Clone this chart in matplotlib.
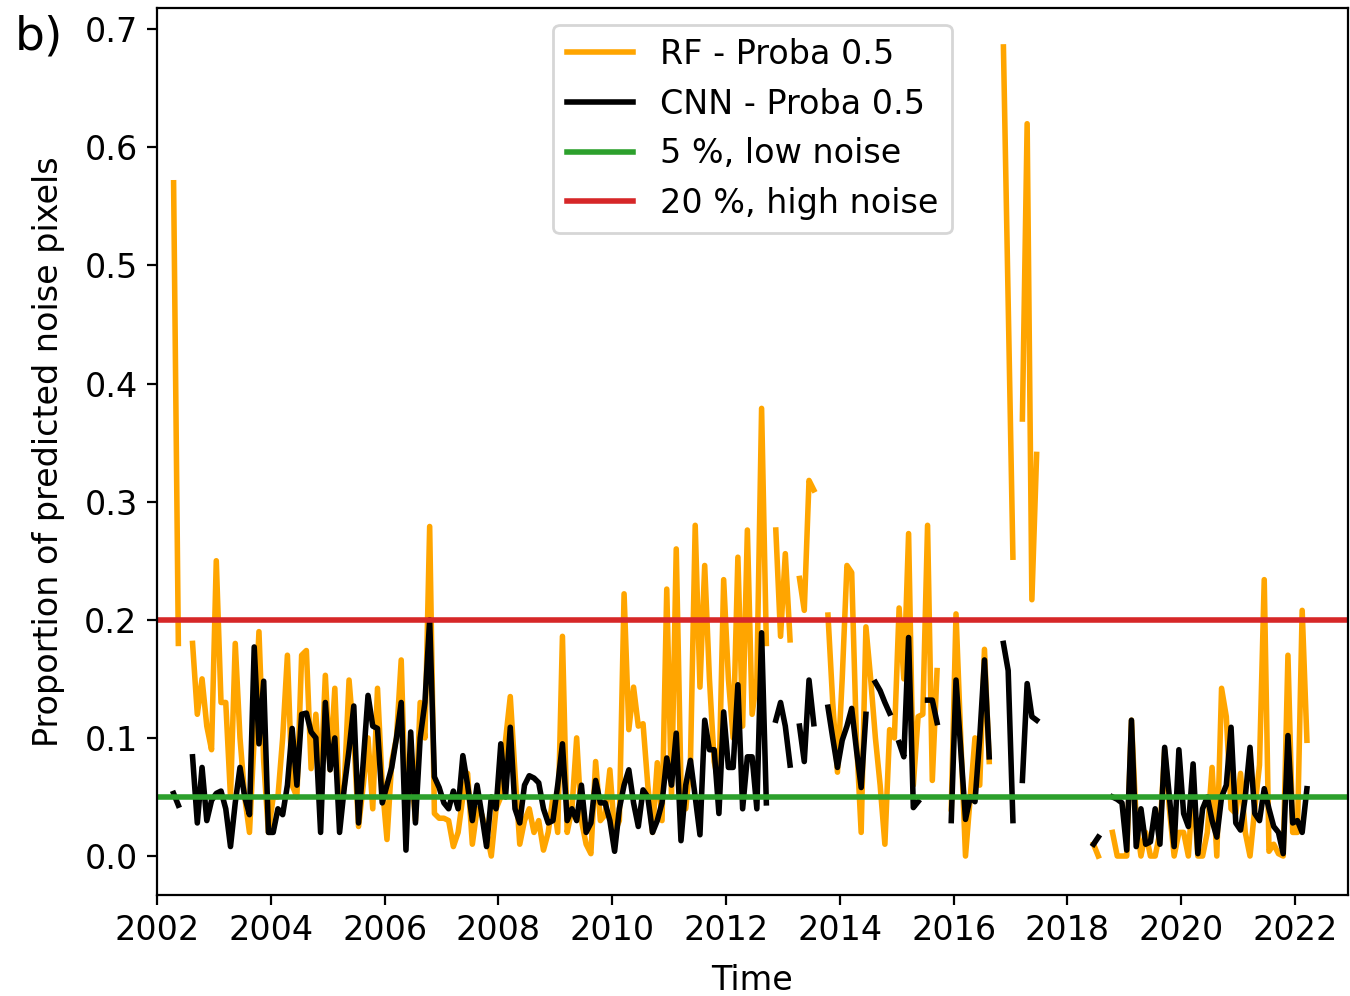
import numpy as np
import matplotlib
matplotlib.use("Agg")
import matplotlib.pyplot as plt

N = np.nan
start_year = 2002  # monthly series starting January 2002

rf = [
    N, N, N, 0.57, 0.18, N, N, 0.18, 0.12, 0.15, 0.11, 0.09,                       # 2002
    0.25, 0.13, 0.13, 0.05, 0.18, 0.10, 0.05, 0.02, 0.10, 0.19, 0.08, 0.02,       # 2003
    0.05, 0.05, 0.10, 0.17, 0.06, 0.05, 0.17, 0.174, 0.074, 0.12, 0.06, 0.153,    # 2004
    0.073, 0.142, 0.039, 0.06, 0.149, 0.10, 0.025, 0.06, 0.10, 0.04, 0.142, 0.06, # 2005
    0.014, 0.08, 0.10, 0.166, 0.03, 0.08, 0.03, 0.13, 0.10, 0.279, 0.036, 0.032,  # 2006
    0.032, 0.03, 0.008, 0.02, 0.05, 0.07, 0.01, 0.04, 0.035, 0.02, 0.0, 0.04,     # 2007
    0.05, 0.098, 0.135, 0.07, 0.01, 0.03, 0.04, 0.02, 0.03, 0.005, 0.02, 0.05,    # 2008
    0.02, 0.186, 0.02, 0.04, 0.10, 0.03, 0.01, 0.002, 0.08, 0.03, 0.035, 0.073,   # 2009
    0.02, 0.03, 0.222, 0.107, 0.143, 0.11, 0.112, 0.06, 0.02, 0.079, 0.03, 0.226, # 2010
    0.05, 0.26, 0.06, 0.04, 0.08, 0.28, 0.143, 0.246, 0.15, 0.08, 0.06, 0.234,    # 2011
    0.15, 0.10, 0.253, 0.11, 0.276, 0.12, 0.15, 0.379, 0.18, N, 0.276, 0.186,     # 2012
    0.256, 0.183, N, 0.235, 0.208, 0.318, 0.31, N, N, 0.204, 0.13, 0.071,         # 2013
    0.15, 0.246, 0.24, 0.10, 0.02, 0.194, 0.15, 0.10, 0.06, 0.01, 0.107, 0.10,    # 2014
    0.21, 0.15, 0.273, 0.06, 0.118, 0.12, 0.28, 0.064, 0.157, N, N, 0.04,         # 2015
    0.205, 0.10, 0.0, 0.05, 0.10, 0.06, 0.175, 0.08, N, N, 0.685, 0.47,           # 2016
    0.253, N, 0.37, 0.62, 0.217, 0.34, N, N, N, N, N, N,                          # 2017
    N, N, N, N, N, 0.01, 0.0, N, N, 0.02, 0.0, 0.0,                               # 2018
    0.0, 0.115, 0.03, 0.0, 0.02, 0.0, 0.0, 0.02, 0.09, 0.04, 0.0, 0.02,           # 2019
    0.02, 0.0, 0.06, 0.0, 0.0, 0.02, 0.075, 0.0, 0.142, 0.118, 0.04, 0.036,       # 2020
    0.07, 0.02, 0.0, 0.04, 0.077, 0.234, 0.004, 0.01, 0.002, 0.0, 0.17, 0.02,     # 2021
    0.02, 0.208, 0.098,                                                           # 2022
]

cnn = [
    N, N, N, 0.053, 0.043, N, N, 0.084, 0.028, 0.075, 0.03, 0.047,                # 2002
    0.053, 0.055, 0.04, 0.008, 0.045, 0.075, 0.05, 0.035, 0.177, 0.095, 0.148, 0.02,  # 2003
    0.02, 0.04, 0.035, 0.06, 0.108, 0.06, 0.12, 0.121, 0.105, 0.10, 0.02, 0.13,   # 2004
    0.073, 0.10, 0.02, 0.058, 0.09, 0.127, 0.028, 0.08, 0.136, 0.11, 0.108, 0.045,# 2005
    0.06, 0.075, 0.10, 0.13, 0.005, 0.105, 0.028, 0.10, 0.13, 0.20, 0.067, 0.058, # 2006
    0.045, 0.04, 0.055, 0.04, 0.085, 0.06, 0.03, 0.06, 0.035, 0.008, 0.05, 0.04,  # 2007
    0.095, 0.05, 0.109, 0.04, 0.028, 0.06, 0.068, 0.066, 0.062, 0.04, 0.028, 0.03,# 2008
    0.06, 0.095, 0.03, 0.04, 0.03, 0.06, 0.02, 0.028, 0.064, 0.045, 0.045, 0.03,  # 2009
    0.004, 0.04, 0.06, 0.073, 0.045, 0.025, 0.056, 0.05, 0.02, 0.03, 0.045, 0.083,# 2010
    0.06, 0.104, 0.013, 0.06, 0.081, 0.05, 0.018, 0.115, 0.09, 0.09, 0.036, 0.122,# 2011
    0.075, 0.075, 0.145, 0.04, 0.084, 0.084, 0.04, 0.189, 0.045, N, 0.115, 0.13,  # 2012
    0.11, 0.077, N, 0.11, 0.08, 0.149, 0.112, N, N, 0.126, 0.10, 0.075,           # 2013
    0.098, 0.11, 0.125, 0.09, 0.058, 0.12, N, 0.147, 0.14, 0.13, 0.121, N,        # 2014
    0.096, 0.084, 0.185, 0.041, 0.046, N, 0.132, 0.132, 0.113, N, N, 0.03,        # 2015
    0.149, 0.09, 0.031, 0.05, 0.046, 0.10, 0.166, 0.084, N, N, 0.18, 0.157,       # 2016
    0.03, N, 0.064, 0.146, 0.118, 0.115, N, N, N, N, N, N,                        # 2017
    N, N, N, N, N, 0.01, 0.016, N, N, 0.05, 0.048, 0.045,                         # 2018
    0.005, 0.115, 0.008, 0.04, 0.01, 0.012, 0.04, 0.01, 0.092, 0.05, 0.008, 0.09, # 2019
    0.036, 0.025, 0.078, 0.002, 0.04, 0.05, 0.03, 0.016, 0.05, 0.06, 0.109, 0.028,# 2020
    0.022, 0.05, 0.092, 0.036, 0.03, 0.057, 0.04, 0.025, 0.02, 0.002, 0.102, 0.028,# 2021
    0.03, 0.02, 0.057,                                                            # 2022
]

low_noise = 0.05
high_noise = 0.20
series_labels = ["RF - Proba 0.5", "CNN - Proba 0.5", "5 %, low noise", "20 %, high noise"]
x_ticks = [2002, 2004, 2006, 2008, 2010, 2012, 2014, 2016, 2018, 2020, 2022]
y_ticks = [0.0, 0.1, 0.2, 0.3, 0.4, 0.5, 0.6, 0.7]

t = start_year + (np.arange(len(rf)) + 0.5) / 12.0

fig = plt.figure(figsize=(6.75, 4.98), dpi=200)
ax = fig.add_axes([0.1163, 0.1014, 0.8822, 0.8906])
lw = 2.0
ax.plot(t, rf, color="orange", lw=lw, label=series_labels[0])
ax.plot(t, cnn, color="black", lw=lw, label=series_labels[1])
ax.axhline(low_noise, color="tab:green", lw=lw, label=series_labels[2])
ax.axhline(high_noise, color="tab:red", lw=lw, label=series_labels[3])

ax.set_xlim(2002, 2022.93)
ax.set_ylim(-0.033, 0.718)
ax.set_xticks(x_ticks)
ax.set_xticklabels([str(v) for v in x_ticks])
ax.set_yticks(y_ticks)
ax.set_yticklabels([f"{v:.1f}" for v in y_ticks])
ax.tick_params(labelsize=12)
ax.set_xlabel("Time", fontsize=12, labelpad=6)
ax.set_ylabel("Proportion of predicted noise pixels", fontsize=12, labelpad=7)
ax.legend(loc="upper center", fontsize=12)

fig.text(0.011, 0.985, "b)", fontsize=17, va="top", ha="left")
fig.savefig("out.png", dpi=200)
